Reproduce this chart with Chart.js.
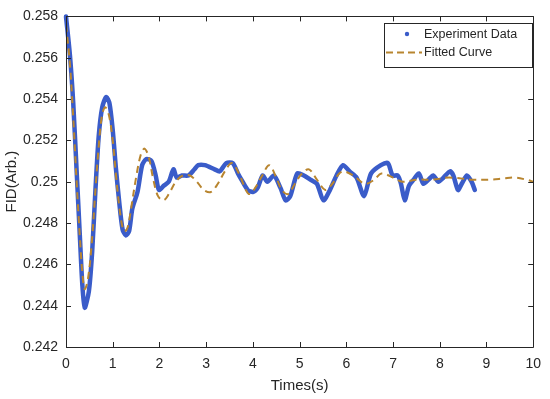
<!DOCTYPE html>
<html>
<head>
<meta charset="utf-8">
<script src="https://cdn.jsdelivr.net/npm/chart.js@4"></script>
<style>
  html, body { margin: 0; padding: 0; background: #fff; }
  #wrap { width: 550px; height: 399px; position: relative; }
</style>
</head>
<body>
<div id="wrap"><canvas id="fidChart"></canvas></div>
<script>
// Datos medidos (puntos azules)
const expTime = [0, 0.085, 0.155, 0.226, 0.296, 0.35, 0.40, 0.49, 0.56, 0.63, 0.70, 0.775, 0.86, 0.93, 1.0, 1.07, 1.14, 1.21, 1.28, 1.35, 1.42, 1.53, 1.63, 1.72, 1.83, 1.92, 1.99, 2.09, 2.20, 2.30, 2.37, 2.48, 2.62, 2.75, 2.83, 2.97, 3.18, 3.29, 3.43, 3.57, 3.68, 3.78, 3.89, 4.0, 4.10, 4.21, 4.31, 4.45, 4.59, 4.70, 4.80, 4.95, 5.09, 5.23, 5.37, 5.51, 5.65, 5.79, 5.93, 6.07, 6.22, 6.38, 6.53, 6.74, 6.89, 6.99, 7.10, 7.17, 7.25, 7.34, 7.44, 7.55, 7.65, 7.76, 7.86, 7.97, 8.08, 8.22, 8.29, 8.39, 8.47, 8.58, 8.68, 8.75];
const expValue = [0.2580, 0.2561, 0.2538, 0.2506, 0.2474, 0.2450, 0.2439, 0.2447, 0.2466, 0.2496, 0.2522, 0.2536, 0.2541, 0.2538, 0.2525, 0.2506, 0.2490, 0.2477, 0.2474, 0.2476, 0.2487, 0.2495, 0.2508, 0.2511, 0.2510, 0.2503, 0.2496, 0.2498, 0.2500, 0.2506, 0.2502, 0.2503, 0.2503, 0.2506, 0.2508, 0.2508, 0.2506, 0.2505, 0.2509, 0.2509, 0.2504, 0.2500, 0.2496, 0.2495, 0.2497, 0.2503, 0.2500, 0.2503, 0.2497, 0.2491, 0.2493, 0.2504, 0.2503, 0.2501, 0.2499, 0.2491, 0.2496, 0.2503, 0.2508, 0.2505, 0.2502, 0.2493, 0.2504, 0.2508, 0.2509, 0.2503, 0.2503, 0.2499, 0.2491, 0.2498, 0.2501, 0.2504, 0.2499, 0.2501, 0.2503, 0.2500, 0.2502, 0.2505, 0.2503, 0.2496, 0.2499, 0.2503, 0.2500, 0.2496];

// Curva ajustada (linea discontinua)
const fitTime = [0, 0.08, 0.15, 0.22, 0.30, 0.35, 0.40, 0.47, 0.55, 0.63, 0.70, 0.77, 0.84, 0.92, 1.0, 1.07, 1.14, 1.20, 1.25, 1.32, 1.40, 1.50, 1.60, 1.68, 1.77, 1.87, 1.97, 2.09, 2.2, 2.35, 2.5, 2.65, 2.8, 2.95, 3.1, 3.25, 3.4, 3.55, 3.7, 3.85, 3.93, 4.05, 4.2, 4.35, 4.5, 4.62, 4.75, 4.9, 5.05, 5.2, 5.37, 5.55, 5.7, 5.85, 5.95, 6.15, 6.4, 6.6, 6.75, 7.0, 7.2, 7.5, 7.85, 8.2, 8.7, 9.05, 9.35, 9.6, 9.85, 10];
const fitValue = [0.2576, 0.2558, 0.2533, 0.2503, 0.2472, 0.2456, 0.2448, 0.2453, 0.2470, 0.2496, 0.2517, 0.2532, 0.2536, 0.2532, 0.2520, 0.2503, 0.2488, 0.2479, 0.2476, 0.2478, 0.2488, 0.2502, 0.2513, 0.2516, 0.2512, 0.2501, 0.2493, 0.2491, 0.2494, 0.2500, 0.2503, 0.2503, 0.2500, 0.2496, 0.2495, 0.2499, 0.2505, 0.2509, 0.2504, 0.2496, 0.2494, 0.2497, 0.2503, 0.2508, 0.2502, 0.2496, 0.2494, 0.2499, 0.2504, 0.2506, 0.2501, 0.2496, 0.2499, 0.2504, 0.2505, 0.2503, 0.2499, 0.2501, 0.2504, 0.2502, 0.2500, 0.2501, 0.2501, 0.2502, 0.2501, 0.2501, 0.25015, 0.2502, 0.2501, 0.2500];

// Ejes
const xTicks = [0, 1, 2, 3, 4, 5, 6, 7, 8, 9, 10];
const yTicks = [0.242, 0.244, 0.246, 0.248, 0.25, 0.252, 0.254, 0.256, 0.258];

const FONT = '"Liberation Sans", Arial, Helvetica, sans-serif';
const INK = '#262626';
const BLUE = '#3a5cc9';
const ORANGE = '#b8852f';

function toPoints(xs, ys) {
    return xs.map((x, i) => ({ x: x, y: ys[i] }));
}

// Caja, marcas hacia dentro y leyenda estilo MATLAB
const matlabAxes = {
    id: 'matlabAxes',
    afterDraw(chart) {
        const { ctx, chartArea: a, scales: { x, y } } = chart;
        ctx.save();
        ctx.strokeStyle = INK;
        ctx.lineWidth = 1;
        ctx.beginPath();
        ctx.rect(Math.round(a.left) + 0.5, Math.round(a.top) + 0.5, Math.round(a.width), Math.round(a.height));
        xTicks.forEach(v => {
            const px = Math.round(x.getPixelForValue(v)) + 0.5;
            ctx.moveTo(px, a.bottom); ctx.lineTo(px, a.bottom - 5);
            ctx.moveTo(px, a.top); ctx.lineTo(px, a.top + 5);
        });
        yTicks.forEach(v => {
            const py = Math.round(y.getPixelForValue(v)) + 0.5;
            ctx.moveTo(a.left, py); ctx.lineTo(a.left + 5, py);
            ctx.moveTo(a.right, py); ctx.lineTo(a.right - 5, py);
        });
        ctx.stroke();

        // leyenda
        const lx = 384, ly = 23, lw = 148, lh = 44;
        ctx.fillStyle = '#fff';
        ctx.fillRect(lx, ly, lw, lh);
        ctx.strokeRect(lx + 0.5, ly + 0.5, lw, lh);

        ctx.fillStyle = BLUE;
        ctx.beginPath();
        ctx.arc(407, 34, 2.2, 0, Math.PI * 2);
        ctx.fill();

        ctx.strokeStyle = ORANGE;
        ctx.lineWidth = 2;
        ctx.setLineDash([7, 4]);
        ctx.beginPath();
        ctx.moveTo(386, 52.5); ctx.lineTo(422, 52.5);
        ctx.stroke();
        ctx.setLineDash([]);

        ctx.fillStyle = INK;
        ctx.font = '12.5px ' + FONT;
        ctx.textBaseline = 'middle';
        ctx.textAlign = 'left';
        ctx.fillText(chart.data.datasets[1].label, 424, 35);
        ctx.fillText(chart.data.datasets[0].label, 424, 53);
        ctx.restore();
    }
};

const ctxFid = document.getElementById('fidChart').getContext('2d');
new Chart(ctxFid, {
    type: 'line',
    data: {
        datasets: [{
            label: 'Fitted Curve',
            data: toPoints(fitTime, fitValue),
            borderColor: ORANGE,
            borderWidth: 2,
            borderDash: [7, 5],
            pointRadius: 0,
            tension: 0.35,
            order: 0
        }, {
            label: 'Experiment Data',
            data: toPoints(expTime, expValue),
            borderColor: BLUE,
            borderWidth: 4.5,
            pointRadius: 0,
            tension: 0.25,
            borderCapStyle: 'round',
            borderJoinStyle: 'round',
            order: 1,
            clip: 3
        }]
    },
    options: {
        responsive: true,
        maintainAspectRatio: false,
        animation: false,
        layout: { padding: { top: 10, right: 11, left: 0, bottom: 0 } },
        plugins: {
            legend: { display: false },
            tooltip: { enabled: false }
        },
        scales: {
            x: {
                type: 'linear',
                min: 0,
                max: 10,
                afterBuildTicks: s => { s.ticks = xTicks.map(v => ({ value: v })); },
                afterFit: s => { s.height = 52; },
                grid: { display: false, drawTicks: false },
                border: { display: false },
                ticks: { color: INK, font: { family: FONT, size: 14 }, padding: 9, maxRotation: 0 },
                title: { display: true, text: 'Times(s)', color: INK, font: { family: FONT, size: 15 }, padding: { top: 0, bottom: 4 } }
            },
            y: {
                min: 0.242,
                max: 0.258,
                afterBuildTicks: s => { s.ticks = yTicks.map(v => ({ value: v })); },
                afterFit: s => { s.width = 66; },
                grid: { display: false, drawTicks: false },
                border: { display: false },
                ticks: {
                    color: INK,
                    font: { family: FONT, size: 14 },
                    padding: 8,
                    callback: v => String(Number(v.toFixed(3)))
                },
                title: { display: true, text: 'FID(Arb.)', color: INK, font: { family: FONT, size: 15 }, padding: { top: 3, bottom: 0 } }
            }
        }
    },
    plugins: [matlabAxes]
});
</script>
</body>
</html>
